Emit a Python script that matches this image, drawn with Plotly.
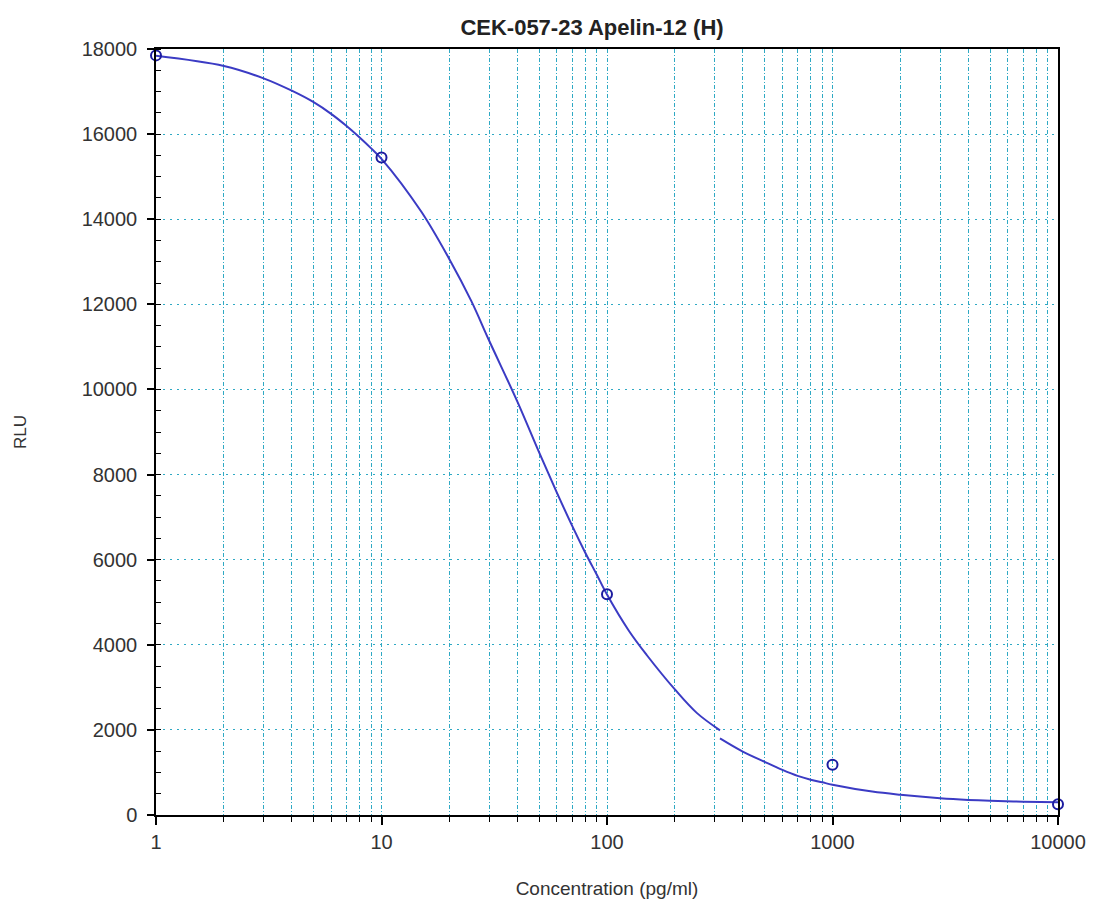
import plotly.graph_objects as go

# Measured standards
conc = [1, 10, 100, 1000, 10000]
rlu = [17850, 15450, 5185, 1180, 255]

# Fitted curve (two drawn segments, with a small break near 317)
fit_x_a = [1, 2, 3, 4, 5, 6, 7, 8, 9, 10, 15, 20, 25, 30, 40, 50, 60, 70, 80, 90, 100,
           125, 150, 200, 250, 317]
fit_y_a = [17840, 17600, 17310, 17020, 16750, 16470, 16190, 15920, 15665, 15420, 14180,
           13060, 12080, 11150, 9720, 8520, 7570, 6800, 6170, 5650, 5180, 4330, 3760,
           2950, 2400, 1990]
fit_x_b = [317, 400, 500, 600, 700, 800, 900, 1000, 1500, 2000, 3000, 4000, 5000, 7000, 10000]
fit_y_b = [1800, 1490, 1250, 1060, 920, 830, 768, 712, 550, 475, 395, 355, 333, 312, 300]

x_ticks = [1, 10, 100, 1000, 10000]
x_ticklabels = ["1", "10", "100", "1000", "10000"]

title_text = "CEK-057-23 Apelin-12 (H)"
x_title = "Concentration (pg/ml)"
y_title = "RLU"

curve_color = "#3b3bc4"
marker_color = "#1c1ca0"
grid_color = "#2fa9c4"
font_family = "Liberation Sans, Arial, sans-serif"

fig = go.Figure()
for fx, fy in [(fit_x_a, fit_y_a), (fit_x_b, fit_y_b)]:
    fig.add_trace(go.Scatter(x=fx, y=fy, mode="lines",
                             line=dict(color=curve_color, width=2, shape="spline", smoothing=1.0),
                             showlegend=False, hoverinfo="skip"))
fig.add_trace(go.Scatter(x=conc, y=rlu, mode="markers",
                         marker=dict(symbol="circle-open", size=10, color=marker_color, line=dict(width=2)),
                         showlegend=False, cliponaxis=False))

fig.update_layout(
    width=1102, height=906,
    margin=dict(l=148, r=52, t=41, b=99),
    paper_bgcolor="white", plot_bgcolor="white",
    font=dict(family=font_family, size=18, color="#333333"),
    title=dict(text="<b>" + title_text + "</b>", x=584 / 1102, xanchor="center", y=1 - 19 / 906, yanchor="middle",
               font=dict(size=22, color="#222222", family=font_family)),
)

fig.update_xaxes(
    type="log", range=[0, 4],
    tickvals=x_ticks, ticktext=x_ticklabels,
    ticks="outside", ticklen=8, tickwidth=1.5, tickcolor="black",
    tickfont=dict(size=20, color="#333333"),
    showline=True, linecolor="black", linewidth=1.5, mirror=True,
    showgrid=True, gridcolor=grid_color, gridwidth=1, griddash="4px,2px,1px,2px",
    minor=dict(dtick="D1", ticks="outside", ticklen=5, tickwidth=1.2, tickcolor="black",
               showgrid=True, gridcolor=grid_color, gridwidth=1, griddash="4px,2px,1px,2px"),
    title=dict(text=x_title, standoff=30, font=dict(size=19, color="#333333")),
    zeroline=False,
)

fig.update_yaxes(
    range=[0, 18000], dtick=2000, tick0=0, tickformat="d",
    ticks="outside", ticklen=7, tickwidth=1.5, tickcolor="black",
    tickfont=dict(size=20, color="#333333"), ticklabelstandoff=6,
    showline=True, linecolor="black", linewidth=1.5, mirror=True,
    showgrid=True, gridcolor=grid_color, gridwidth=1, griddash="2px,5px",
    minor=dict(dtick=500, ticks="inside", ticklen=5, tickwidth=1.2, tickcolor="black", showgrid=False),
    title=dict(text=y_title, standoff=51, font=dict(size=17, color="#333333")),
    zeroline=False,
)

fig.write_html("out.html")
